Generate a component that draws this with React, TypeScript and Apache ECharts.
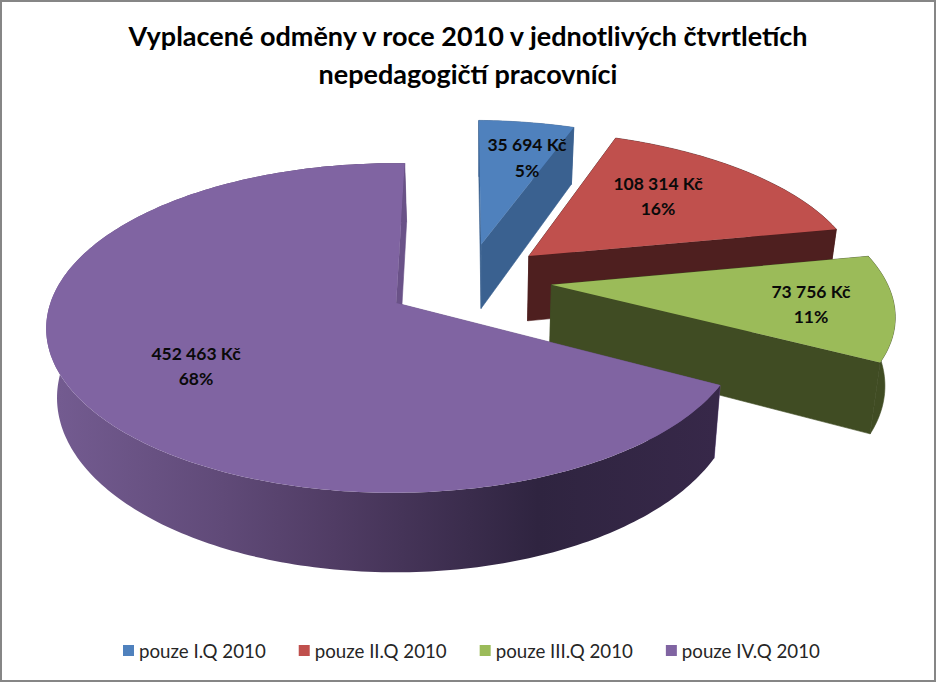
import React, { useEffect, useRef } from "react";
import * as echarts from "echarts";

const titleLines = ["Vyplacené odměny v roce 2010 v jednotlivých čtvrtletích", "nepedagogičtí pracovníci"];
const categories = ["pouze I.Q 2010", "pouze II.Q 2010", "pouze III.Q 2010", "pouze IV.Q 2010"];
const amounts = [35694, 108314, 73756, 452463];
const topColors = ["#4F81BD", "#C0504D", "#9BBB59", "#8064A2"];
const sideColors = ["#3A6190", "#4E1F1F", "#404C23", "#6A5288"];

// Scene layout for the perspective pie
const FIRST_ANGLE = 1.5;
const CX = 402;
const CY = 303;
const RY = 161;
const K = 0.1515;
const VANISH_X = 480;
const SHRINK = 0.975;
const sliceOffsetU = [0.2385, 0.378, 0.433, -0.017];
const sliceOffsetV = [-0.3848, -0.305, -0.115, 0];
const sliceRadius = [0.985, 0.97, 0.975, 1];
const sliceRx = [351, 351, 351, 344];
const sliceSkew = [0, 0, 0, 0.005];
const labelX = [527, 658, 811, 196];
const labelY = [132, 170.5, 278.5, 340.5];

const total = amounts.reduce((a, b) => a + b, 0);

function fmt(v: number) {
  return String(v).replace(/\B(?=(\d{3})+(?!\d))/g, " ") + " Kč";
}

function renderSlice(index: number) {
  return (_params: any, api: any) => {
    const value = api.value(0);
    let before = 0;
    for (let i = 0; i < index; i++) before += amounts[i];
    const a0 = FIRST_ANGLE + (before / total) * 360;
    const a1 = a0 + (value / total) * 360;
    const ou = sliceOffsetU[index];
    const ov = sliceOffsetV[index];
    const r = sliceRadius[index];
    const rx = sliceRx[index];
    const m = sliceSkew[index];
    const project = (u: number, v: number) => {
      const d = 1 - K * v + m * u;
      return [CX + (rx * u) / d, CY + (RY * v) / d];
    };
    const drop = (p: number[]) => [VANISH_X + (p[0] - VANISH_X) * SHRINK, p[1] + 55 + 0.0625 * (p[1] - 100)];
    const apex = project(ou, ov);
    const arc: number[][] = [];
    const steps = Math.max(4, Math.ceil(a1 - a0));
    for (let i = 0; i <= steps; i++) {
      const t = ((a0 + ((a1 - a0) * i) / steps) * Math.PI) / 180;
      arc.push(project(ou + r * Math.sin(t), ov - r * Math.cos(t)));
    }
    const bottomArc = arc.map(drop);
    const apexB = drop(apex);
    const first = arc[0];
    const last = arc[arc.length - 1];
    const side = sideColors[index];
    const outerFill =
      index === 3
        ? new echarts.graphic.LinearGradient(
            59, 0, 715, 0,
            [
              { offset: 0, color: "#735B90" },
              { offset: 0.25, color: "#604A78" },
              { offset: 0.42, color: "#503C64" },
              { offset: 0.73, color: "#2F2440" },
              { offset: 1, color: "#372849" },
            ],
            true
          )
        : side;
    const poly = (points: number[][], fill: any) => ({
      type: "polygon",
      shape: { points },
      style: { fill, stroke: typeof fill === "string" && fill === side ? side : "none", lineWidth: 0.6 },
    });
    const percent = Math.round((value / total) * 100);
    return {
      type: "group",
      children: [
        poly([apex, first, bottomArc[0], apexB], side),
        poly([...arc, ...bottomArc.slice().reverse()], outerFill),
        poly([apex, last, bottomArc[bottomArc.length - 1], apexB], side),
        poly([apex, ...arc], topColors[index]),
        {
          type: "text",
          style: {
            text: fmt(value) + "\n" + percent + "%",
            x: labelX[index],
            y: labelY[index],
            align: "center",
            verticalAlign: "top",
            lineHeight: 25.5,
            fill: "#0A0A0A",
            fontWeight: "bold",
            fontFamily: "Lato",
            fontSize: 17.5,
          },
        },
      ],
    };
  };
}

export default function App() {
  const ref = useRef<HTMLDivElement>(null);
  useEffect(() => {
    document.body.style.margin = "0";
    const chart = echarts.init(ref.current!, null, { renderer: "svg" });
    chart.setOption({
      animation: false,
      backgroundColor: "#FFFFFF",
      color: topColors,
      title: {
        text: titleLines.join("\n"),
        left: "center",
        top: 11,
        textStyle: {
          fontFamily: "Lato",
          fontWeight: "bold",
          fontSize: 27,
          lineHeight: 38,
          color: "#000000",
        },
      },
      legend: {
        data: categories,
        left: 118,
        top: 636,
        itemWidth: 11,
        itemHeight: 11,
        itemGap: 33,
        icon: "rect",
        textStyle: { fontFamily: "Lato", fontSize: 18.7, color: "#262626" },
      },
      graphic: [
        {
          type: "rect",
          shape: { x: 1, y: 1, width: 934, height: 680 },
          style: { fill: "none", stroke: "#868686", lineWidth: 2 },
          silent: true,
        },
      ],
      series: categories.map((name, i) => ({
        type: "custom",
        name,
        coordinateSystem: "none",
        renderItem: renderSlice(i),
        itemStyle: { color: topColors[i] },
        data: [[amounts[i]]],
        silent: true,
      })),
    });
    return () => chart.dispose();
  }, []);
  return <div ref={ref} style={{ width: 936, height: 682 }} />;
}
